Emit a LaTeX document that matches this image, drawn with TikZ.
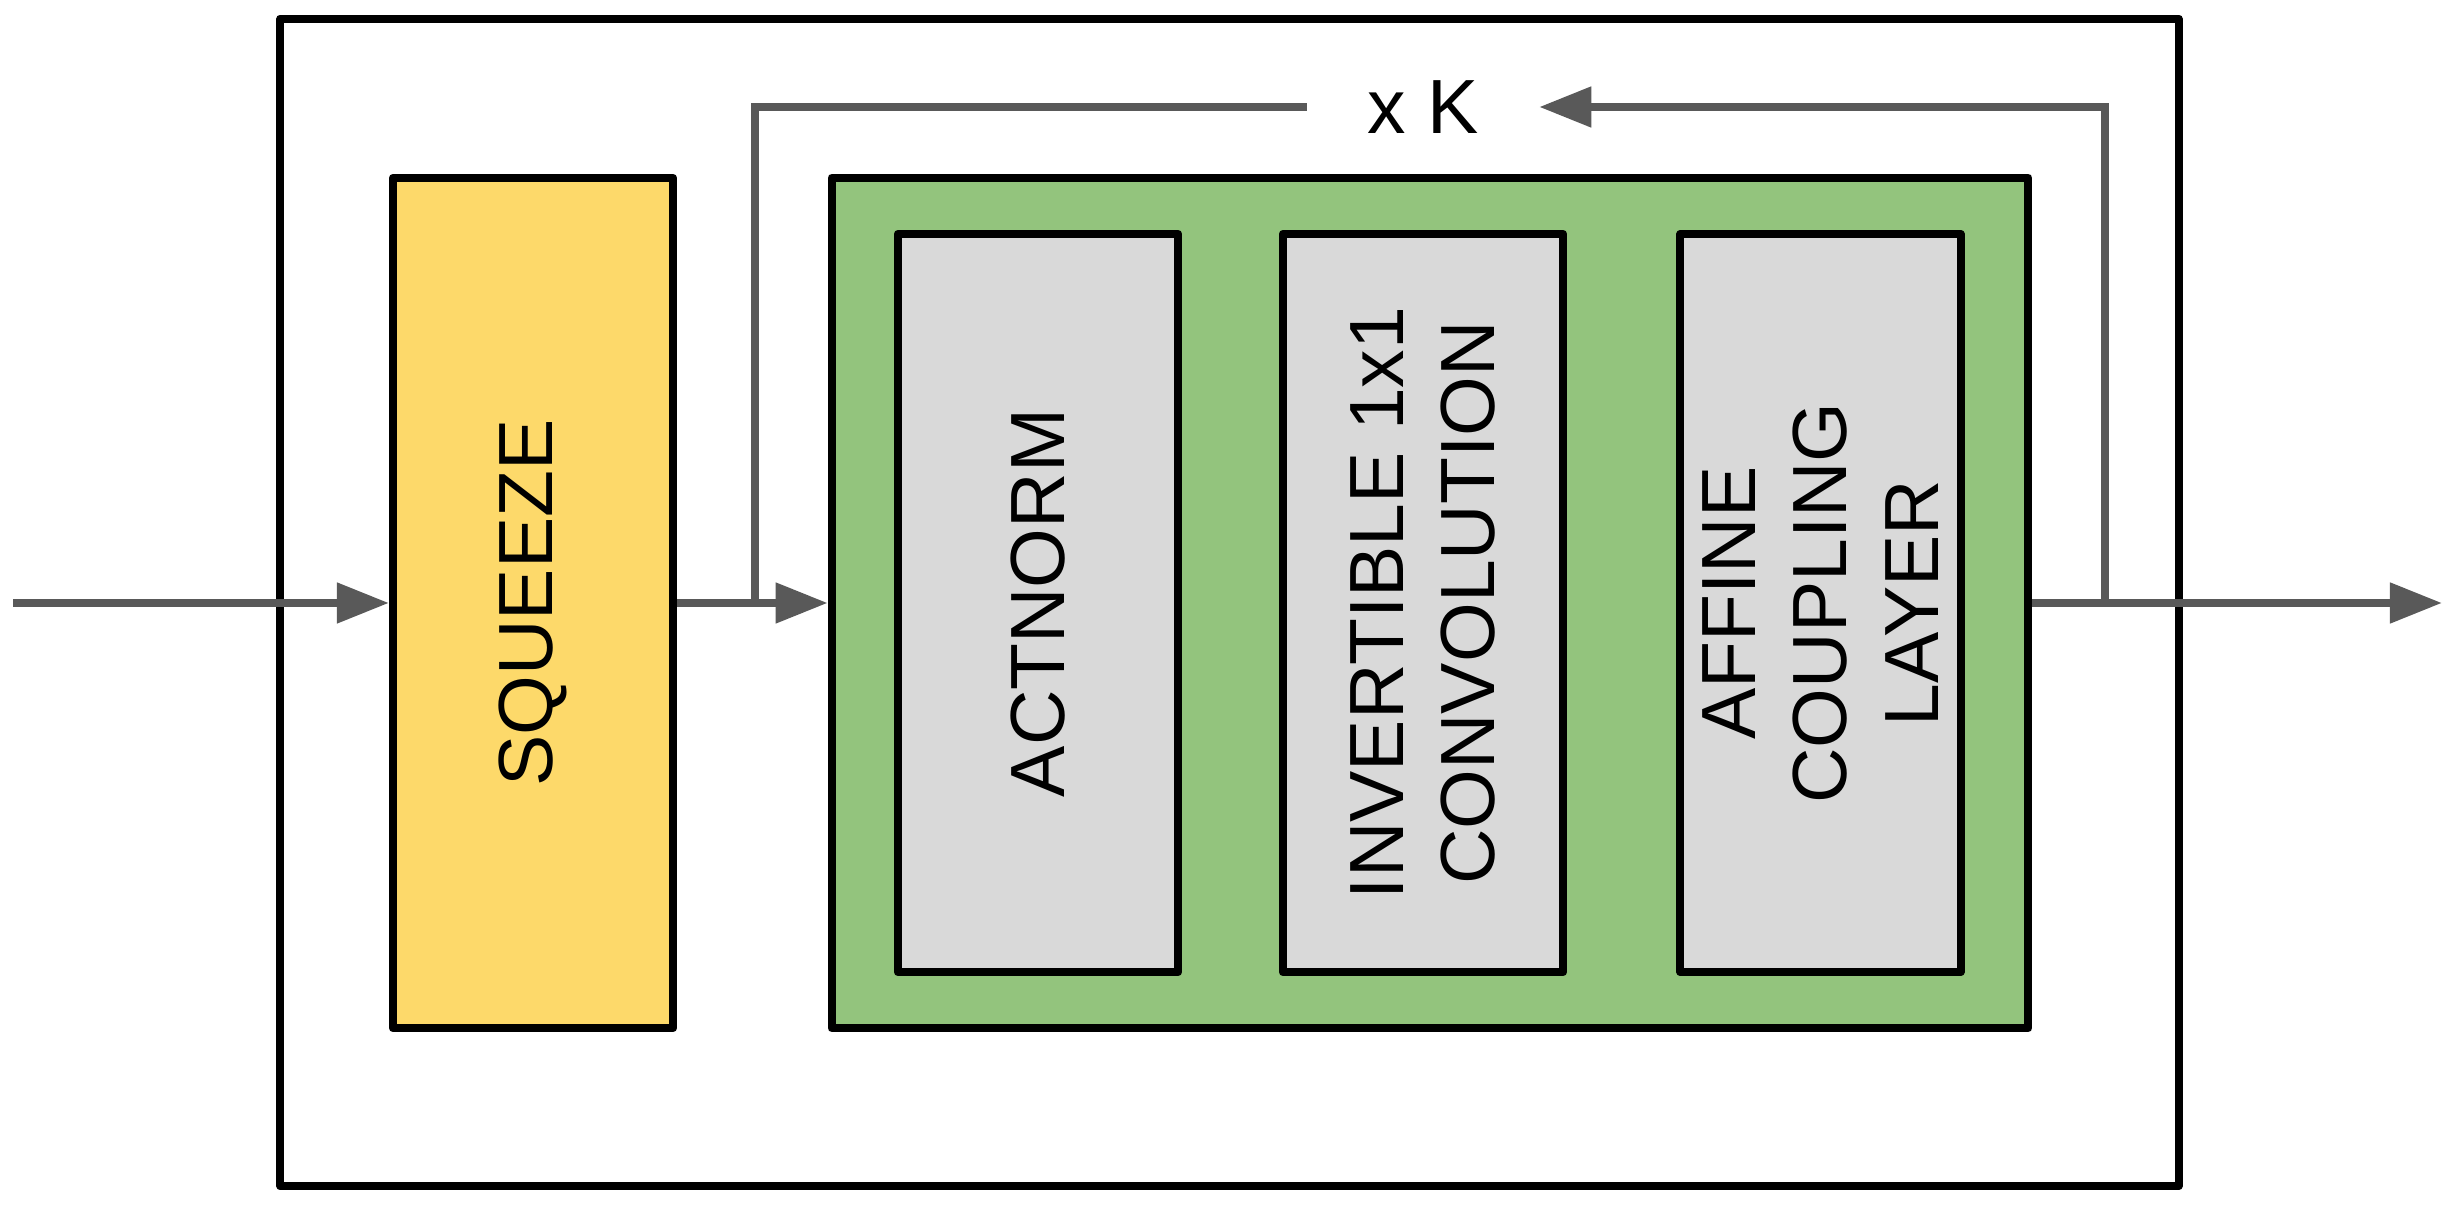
\documentclass[tikz,border=0pt]{standalone}
\usepackage{fontspec}
\setmainfont{Liberation Sans}
\usetikzlibrary{arrows.meta}
\definecolor{squeezeyellow}{HTML}{FDD96A}
\definecolor{flowgreen}{HTML}{93C47D}
\definecolor{layergray}{HTML}{D9D9D9}
\definecolor{wiregray}{HTML}{595959}
\tikzset{
    box/.style={draw=black,line width=0.08cm,line join=round,inner sep=0pt},
    wire/.style={draw=wiregray,line width=0.08cm},
    flow/.style={wire,-{Triangle[length=0.52cm,width=0.39cm]}},
    boxtext/.style={rotate=90,align=center,inner sep=0pt,font=\fontsize{21.85pt}{25.9pt}\selectfont}
}
\begin{document}
\begin{tikzpicture}[x=0.01cm,y=-0.01cm]
        \useasboundingbox (0,0) rectangle (2450,1210);
        % outer block
        \node[box,minimum width=18.97cm,minimum height=11.67cm] (stage) at (1229.5,602.5) {};
        \node[box,fill=squeezeyellow,minimum width=2.8cm,minimum height=8.5cm] (squeeze) at (533,603) {};
        \node[box,fill=flowgreen,minimum width=11.96cm,minimum height=8.5cm] (step) at (1430,603) {};
        \node[box,fill=layergray,minimum width=2.8cm,minimum height=7.38cm] (actnorm) at (1038,603) {};
        \node[box,fill=layergray,minimum width=2.8cm,minimum height=7.38cm] (invconv) at (1423,603) {};
        \node[box,fill=layergray,minimum width=2.8cm,minimum height=7.38cm] (coupling) at (1820.5,603) {};
        % labels
        \node[boxtext] (squeezetext) at (squeeze) {SQUEEZE};
        \node[boxtext] (actnormtext) at (actnorm) {ACTNORM};
        \node[boxtext] (invconvtext) at (invconv) {INVERTIBLE 1x1\\CONVOLUTION};
        \node[boxtext] (couplingtext) at (coupling) {AFFINE\\COUPLING\\LAYER};
        \node[inner xsep=0.6cm,inner ysep=0pt,font=\fontsize{21.85pt}{25.9pt}\selectfont] (repeat) at (1423,107) {x K};
        % wires
        \coordinate (in) at (13,603);
        \coordinate (out) at (2442,603);
        \coordinate (split) at (755,603);
        \coordinate (merge) at (2105,603);
        \draw[flow] (in) -- (squeeze);
        \draw[flow] (squeeze) -- (step);
        \draw[flow] (step) -- (out);
        \draw[wire] (split) |- (repeat.west);
        \draw[flow] (merge) |- (repeat.east);
\end{tikzpicture}
\end{document}
